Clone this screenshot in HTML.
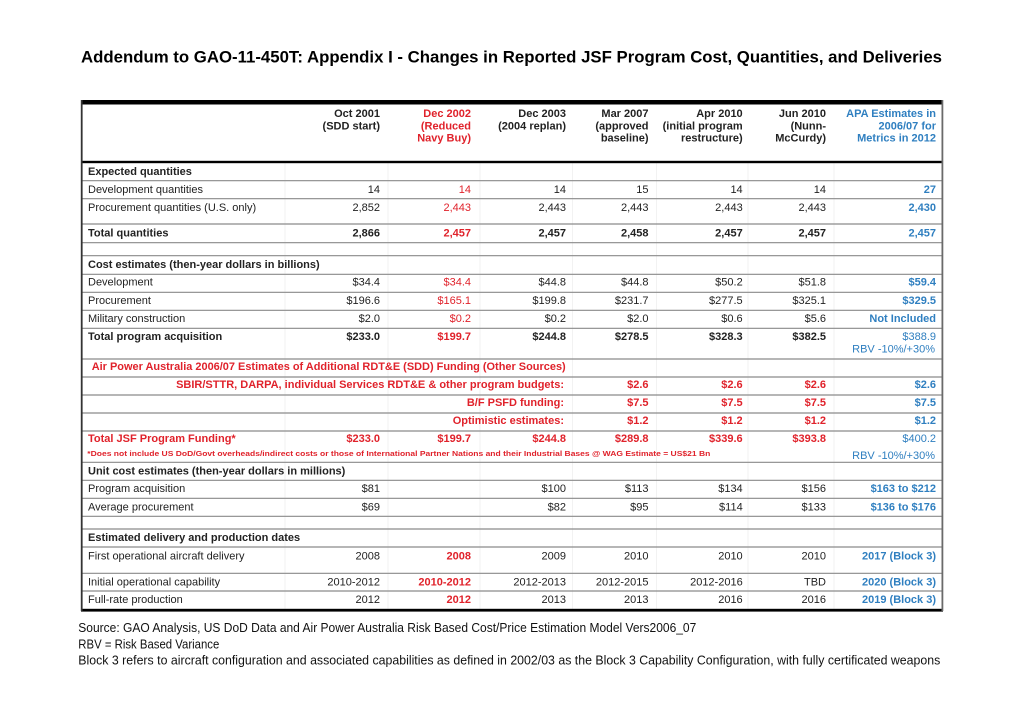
<!DOCTYPE html>
<html><head><meta charset="utf-8"><style>
html,body{margin:0;padding:0;background:#fff;}
svg{display:block;}
text{font-family:"Liberation Sans",Arial,sans-serif;}
.t{font-size:11px;fill:#222;}
.b{font-weight:bold;}
.r{fill:#e0222b;}
.u{fill:#2f7fc0;}
.e{text-anchor:end;}
</style></head><body>
<svg width="1024" height="724" viewBox="0 0 1024 724" xmlns="http://www.w3.org/2000/svg">
<rect width="1024" height="724" fill="#fff"/>
<text x="81" y="62.5" font-size="16.5" font-weight="bold" fill="#000" textLength="861" lengthAdjust="spacingAndGlyphs">Addendum to GAO-11-450T: Appendix I - Changes in Reported JSF Program Cost, Quantities, and Deliveries</text>

<g stroke="#f2f2f2" stroke-width="1">
<line x1="285" y1="163" x2="285" y2="609"/><line x1="388" y1="163" x2="388" y2="609"/><line x1="480" y1="163" x2="480" y2="609"/><line x1="572.5" y1="163" x2="572.5" y2="609"/><line x1="656.5" y1="163" x2="656.5" y2="609"/><line x1="748" y1="163" x2="748" y2="609"/><line x1="834" y1="163" x2="834" y2="609"/>
</g>
<g stroke="#8a8a8a" stroke-width="1.2">
<line x1="82" x2="942" y1="180.7" y2="180.7"/><line x1="82" x2="942" y1="198.7" y2="198.7"/><line x1="82" x2="942" y1="224" y2="224"/><line x1="82" x2="942" y1="242.7" y2="242.7"/><line x1="82" x2="942" y1="255.7" y2="255.7"/><line x1="82" x2="942" y1="274.3" y2="274.3"/><line x1="82" x2="942" y1="292.3" y2="292.3"/><line x1="82" x2="942" y1="310.3" y2="310.3"/><line x1="82" x2="942" y1="328.3" y2="328.3"/><line x1="82" x2="942" y1="359" y2="359"/><line x1="82" x2="942" y1="377" y2="377"/><line x1="82" x2="942" y1="395" y2="395"/><line x1="82" x2="942" y1="413" y2="413"/><line x1="82" x2="942" y1="431" y2="431"/><line x1="82" x2="942" y1="462.3" y2="462.3"/><line x1="82" x2="942" y1="480.3" y2="480.3"/><line x1="82" x2="942" y1="498.3" y2="498.3"/><line x1="82" x2="942" y1="516.3" y2="516.3"/><line x1="82" x2="942" y1="529" y2="529"/><line x1="82" x2="942" y1="547" y2="547"/><line x1="82" x2="942" y1="573.3" y2="573.3"/><line x1="82" x2="942" y1="591" y2="591"/>
</g>
<rect x="81" y="100" width="862" height="4.5" fill="#000"/>
<rect x="81" y="160.8" width="862" height="2.4" fill="#000"/>
<rect x="81" y="608.8" width="862" height="2.8" fill="#000"/>
<rect x="80.8" y="100" width="1.8" height="511" fill="#333"/>
<rect x="941.5" y="100" width="1.8" height="511" fill="#6a6a6a"/>

<text class="t b e" x="380" y="117">Oct 2001</text><text class="t b e" x="380" y="129.5">(SDD start)</text>
<text class="t b e r" x="471" y="117">Dec 2002</text><text class="t b e r" x="471" y="129.5">(Reduced</text><text class="t b e r" x="471" y="141.5">Navy Buy)</text>
<text class="t b e" x="566" y="117">Dec 2003</text><text class="t b e" x="566" y="129.5">(2004 replan)</text>
<text class="t b e" x="648.5" y="117">Mar 2007</text><text class="t b e" x="648.5" y="129.5">(approved</text><text class="t b e" x="648.5" y="141.5">baseline)</text>
<text class="t b e" x="742.7" y="117">Apr 2010</text><text class="t b e" x="742.7" y="129.5">(initial program</text><text class="t b e" x="742.7" y="141.5">restructure)</text>
<text class="t b e" x="826" y="117">Jun 2010</text><text class="t b e" x="826" y="129.5">(Nunn-</text><text class="t b e" x="826" y="141.5">McCurdy)</text>
<text class="t b e u" x="936" y="117">APA Estimates in</text><text class="t b e u" x="936" y="129.5">2006/07 for</text><text class="t b e u" x="936" y="141.5">Metrics in 2012</text>

<text class="t b" x="88" y="175">Expected quantities</text>
<text class="t" x="88" y="193">Development quantities</text>
<text class="t" x="88" y="211">Procurement quantities (U.S. only)</text>
<text class="t b" x="88" y="236.5">Total quantities</text>
<text class="t b" x="88" y="268">Cost estimates (then-year dollars in billions)</text>
<text class="t" x="88" y="285.5">Development</text>
<text class="t" x="88" y="304">Procurement</text>
<text class="t" x="88" y="322">Military construction</text>
<text class="t b" x="88" y="340">Total program acquisition</text>
<text class="t b r e" x="565.7" y="370" textLength="474" lengthAdjust="spacingAndGlyphs">Air Power Australia 2006/07 Estimates of Additional RDT&amp;E (SDD) Funding (Other Sources)</text>
<text class="t b r e" x="564" y="388">SBIR/STTR, DARPA, individual Services RDT&amp;E &amp; other program budgets:</text>
<text class="t b r e" x="564" y="406">B/F  PSFD funding:</text>
<text class="t b r e" x="564" y="424">Optimistic estimates:</text>
<text class="t b r" x="88" y="442">Total JSF Program Funding*</text>
<text class="b r" x="87.3" y="456" font-size="7.6" textLength="623" lengthAdjust="spacingAndGlyphs">*Does not include US DoD/Govt overheads/indirect costs or those of International Partner Nations and their Industrial Bases @ WAG Estimate = US$21 Bn</text>
<text class="t b" x="88" y="474.5">Unit cost estimates (then-year dollars in millions)</text>
<text class="t" x="88" y="492">Program acquisition</text>
<text class="t" x="88" y="510.5">Average procurement</text>
<text class="t b" x="88" y="541">Estimated delivery and production dates</text>
<text class="t" x="88" y="559.5">First operational aircraft delivery</text>
<text class="t" x="88" y="585.5">Initial operational capability</text>
<text class="t" x="88" y="603">Full-rate production</text>

<text class="t e" x="380" y="193">14</text><text class="t e r" x="471" y="193">14</text><text class="t e" x="566" y="193">14</text><text class="t e" x="648.5" y="193">15</text><text class="t e" x="742.7" y="193">14</text><text class="t e" x="826" y="193">14</text><text class="t e b u" x="936" y="193">27</text>
<text class="t e" x="380" y="211">2,852</text><text class="t e r" x="471" y="211">2,443</text><text class="t e" x="566" y="211">2,443</text><text class="t e" x="648.5" y="211">2,443</text><text class="t e" x="742.7" y="211">2,443</text><text class="t e" x="826" y="211">2,443</text><text class="t e b u" x="936" y="211">2,430</text>
<text class="t e b" x="380" y="236.5">2,866</text><text class="t e b r" x="471" y="236.5">2,457</text><text class="t e b" x="566" y="236.5">2,457</text><text class="t e b" x="648.5" y="236.5">2,458</text><text class="t e b" x="742.7" y="236.5">2,457</text><text class="t e b" x="826" y="236.5">2,457</text><text class="t e b u" x="936" y="236.5">2,457</text>

<text class="t e" x="380" y="285.5">$34.4</text><text class="t e r" x="471" y="285.5">$34.4</text><text class="t e" x="566" y="285.5">$44.8</text><text class="t e" x="648.5" y="285.5">$44.8</text><text class="t e" x="742.7" y="285.5">$50.2</text><text class="t e" x="826" y="285.5">$51.8</text><text class="t e b u" x="936" y="285.5">$59.4</text>
<text class="t e" x="380" y="304">$196.6</text><text class="t e r" x="471" y="304">$165.1</text><text class="t e" x="566" y="304">$199.8</text><text class="t e" x="648.5" y="304">$231.7</text><text class="t e" x="742.7" y="304">$277.5</text><text class="t e" x="826" y="304">$325.1</text><text class="t e b u" x="936" y="304">$329.5</text>
<text class="t e" x="380" y="322">$2.0</text><text class="t e r" x="471" y="322">$0.2</text><text class="t e" x="566" y="322">$0.2</text><text class="t e" x="648.5" y="322">$2.0</text><text class="t e" x="742.7" y="322">$0.6</text><text class="t e" x="826" y="322">$5.6</text><text class="t e b u" x="936" y="322">Not Included</text>
<text class="t e b" x="380" y="340">$233.0</text><text class="t e b r" x="471" y="340">$199.7</text><text class="t e b" x="566" y="340">$244.8</text><text class="t e b" x="648.5" y="340">$278.5</text><text class="t e b" x="742.7" y="340">$328.3</text><text class="t e b" x="826" y="340">$382.5</text><text class="t e u" x="936" y="340">$388.9</text>
<text class="t e u" x="935" y="352.5">RBV -10%/+30%</text>

<text class="t e b r" x="648.5" y="388">$2.6</text><text class="t e b r" x="742.7" y="388">$2.6</text><text class="t e b r" x="826" y="388">$2.6</text><text class="t e b u" x="936" y="388">$2.6</text>
<text class="t e b r" x="648.5" y="406">$7.5</text><text class="t e b r" x="742.7" y="406">$7.5</text><text class="t e b r" x="826" y="406">$7.5</text><text class="t e b u" x="936" y="406">$7.5</text>
<text class="t e b r" x="648.5" y="424">$1.2</text><text class="t e b r" x="742.7" y="424">$1.2</text><text class="t e b r" x="826" y="424">$1.2</text><text class="t e b u" x="936" y="424">$1.2</text>
<text class="t e b r" x="380" y="442">$233.0</text><text class="t e b r" x="471" y="442">$199.7</text><text class="t e b r" x="566" y="442">$244.8</text><text class="t e b r" x="648.5" y="442">$289.8</text><text class="t e b r" x="742.7" y="442">$339.6</text><text class="t e b r" x="826" y="442">$393.8</text><text class="t e u" x="936" y="442">$400.2</text>
<text class="t e u" x="935" y="459">RBV -10%/+30%</text>

<text class="t e" x="380" y="492">$81</text><text class="t e" x="566" y="492">$100</text><text class="t e" x="648.5" y="492">$113</text><text class="t e" x="742.7" y="492">$134</text><text class="t e" x="826" y="492">$156</text><text class="t e b u" x="936" y="492">$163 to $212</text>
<text class="t e" x="380" y="510.5">$69</text><text class="t e" x="566" y="510.5">$82</text><text class="t e" x="648.5" y="510.5">$95</text><text class="t e" x="742.7" y="510.5">$114</text><text class="t e" x="826" y="510.5">$133</text><text class="t e b u" x="936" y="510.5">$136 to $176</text>

<text class="t e" x="380" y="559.5">2008</text><text class="t e b r" x="471" y="559.5">2008</text><text class="t e" x="566" y="559.5">2009</text><text class="t e" x="648.5" y="559.5">2010</text><text class="t e" x="742.7" y="559.5">2010</text><text class="t e" x="826" y="559.5">2010</text><text class="t e b u" x="936" y="559.5">2017 (Block 3)</text>
<text class="t e" x="380" y="585.5">2010-2012</text><text class="t e b r" x="471" y="585.5">2010-2012</text><text class="t e" x="566" y="585.5">2012-2013</text><text class="t e" x="648.5" y="585.5">2012-2015</text><text class="t e" x="742.7" y="585.5">2012-2016</text><text class="t e" x="826" y="585.5">TBD</text><text class="t e b u" x="936" y="585.5">2020 (Block 3)</text>
<text class="t e" x="380" y="603">2012</text><text class="t e b r" x="471" y="603">2012</text><text class="t e" x="566" y="603">2013</text><text class="t e" x="648.5" y="603">2013</text><text class="t e" x="742.7" y="603">2016</text><text class="t e" x="826" y="603">2016</text><text class="t e b u" x="936" y="603">2019 (Block 3)</text>

<text x="78.3" y="632" font-size="12.5" fill="#111" textLength="618" lengthAdjust="spacingAndGlyphs">Source:  GAO Analysis, US DoD Data and Air Power Australia Risk Based Cost/Price Estimation Model Vers2006_07</text>
<text x="78.3" y="648.3" font-size="12.5" fill="#111" textLength="141" lengthAdjust="spacingAndGlyphs">RBV = Risk Based Variance</text>
<text x="78.3" y="664.5" font-size="12.5" fill="#111" textLength="862" lengthAdjust="spacingAndGlyphs">Block 3 refers to aircraft configuration and associated capabilities as defined in 2002/03 as the Block 3 Capability Configuration, with fully certificated weapons</text>
</svg>
</body></html>
